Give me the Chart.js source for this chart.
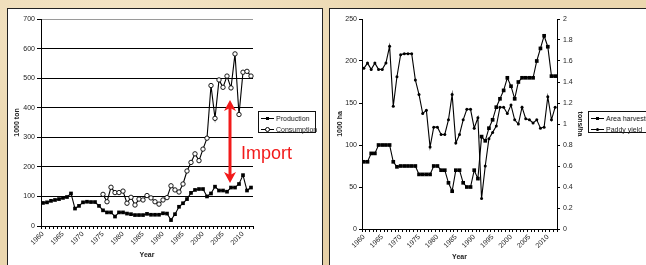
<!DOCTYPE html>
<html>
<head>
<meta charset="utf-8">
<script src="https://cdn.jsdelivr.net/npm/chart.js@4.4.0/dist/chart.umd.min.js"></script>
<style>
html, body { margin: 0; padding: 0; }
body {
    width: 646px; height: 265px; overflow: hidden; position: relative;
    background: #ebd7af;
    background-image: radial-gradient(ellipse at 20% 10%, rgba(255,245,225,0.5), rgba(255,245,225,0) 40%),
                      radial-gradient(ellipse at 80% 95%, rgba(200,170,120,0.35), rgba(200,170,120,0) 45%);
    font-family: "Liberation Sans", Arial, sans-serif;
}
.panel { position: absolute; background: #fff; border: 1px solid #222; box-sizing: border-box; }
#leftPanel { left: 7px; top: 8px; width: 316px; height: 270px; }
#rightPanel { left: 329px; top: 8px; width: 342px; height: 270px; }
.panel canvas { position: absolute; left: 0; top: 0; }
.legend { position: absolute; background: #fff; border: 1px solid #111; font-size: 7px; color: #222; padding-top: 1px; height: 22px; box-sizing: border-box; filter: grayscale(1); }
.legend .item { position: relative; height: 11px; line-height: 11px; padding-left: 17px; white-space: nowrap; }
.legend .ico { position: absolute; left: 2px; top: 5px; width: 13px; height: 1px; background: #000; }
.legend .mk { position: absolute; }
.mk.sq { left: 5px; top: -1px; width: 3px; height: 3px; background: #000; }
.mk.ci { left: 4px; top: -2px; width: 3px; height: 3px; border: 1px solid #000; border-radius: 50%; background: #fff; }
.mk.dot { left: 5px; top: -1px; width: 3px; height: 3px; border-radius: 50%; background: #000; }
#legL { left: 258px; top: 111px; width: 58px; }
#legR { left: 588px; top: 111px; width: 80px; }
#importLabel { position: absolute; left: 241px; top: 144px; font-size: 18px; line-height: 18px; color: #f21a1a; }
</style>
</head>
<body>
<div class="panel" id="leftPanel"><canvas id="left" width="314" height="256"></canvas></div>
<div class="panel" id="rightPanel"><canvas id="right" width="340" height="256"></canvas></div>
<div class="legend" id="legL"></div>
<div class="legend" id="legR"></div>
<div id="importLabel">Import</div>
<script>
const years = Array.from({ length: 53 }, (_, i) => 1960 + i);

// left chart, 1000 ton
const production = [
    78, 80, 85, 88, 91, 95, 98, 110, 59, 68,
    80, 82, 81, 81, 68, 53, 46, 46, 32, 46,
    46, 42, 40, 37, 37, 37, 41, 38, 38, 38,
    43, 42, 20, 40, 65, 77, 91, 112, 122, 125,
    125, 100, 110, 133, 120, 120, 116, 130, 130, 142,
    172, 120, 130
];
const consumption = [
    null, null, null, null, null, null, null, null, null, null,
    null, null, null, null, null, 107, 82, 131, 113, 113,
    118, 77, 97, 71, 91, 88, 103, 95, 82, 74,
    88, 96, 136, 122, 115, 142, 186, 215, 244, 221,
    260, 297, 475, 364, 494, 469, 507, 467, 582, 377,
    520, 523, 507
];

// right chart, 1000 ha and tons/ha
const areaHarvested = [
    80, 80, 90, 90, 100, 100, 100, 100, 80, 74,
    75, 75, 75, 75, 75, 65, 65, 65, 65, 75,
    75, 70, 70, 55, 45, 70, 70, 55, 50, 50,
    70, 60, 110, 105, 120, 130, 145, 155, 165, 180,
    170, 155, 175, 180, 180, 180, 180, 200, 215, 230,
    217, 182, 182
];
const paddyYield = [
    1.53, 1.58, 1.52, 1.58, 1.52, 1.52, 1.58, 1.74, 1.17, 1.45,
    1.66, 1.67, 1.67, 1.67, 1.42, 1.28, 1.10, 1.13, 0.78, 0.97,
    0.97, 0.90, 0.90, 1.04, 1.28, 0.82, 0.90, 1.04, 1.14, 1.14,
    0.96, 1.06, 0.29, 0.60, 0.86, 0.92, 0.98, 1.16, 1.16, 1.10,
    1.18, 1.04, 1.00, 1.16, 1.05, 1.04, 1.01, 1.04, 0.96, 0.97,
    1.26, 1.04, 1.16
];

// red "Import" arrow, in data units
const arrowIndex = 46.75;
const arrowFrom = 145;
const arrowTo = 426;

const FONT = { family: '"Liberation Sans", Arial, sans-serif', size: 7 };
const BOLD = { family: '"Liberation Sans", Arial, sans-serif', size: 7, weight: 'bold' };
const INK = '#222';

Chart.defaults.animation = false;
Chart.defaults.color = INK;

function yearTick(value, index) {
    return years[index] % 5 === 0 ? String(years[index]) : '';
}

function xAxis(height, titlePad) {
    return {
        type: 'category',
        offset: true,
        grid: { display: true, drawOnChartArea: false, tickLength: 3, tickColor: '#000', offset: true },
        border: { color: '#000', width: 1 },
        ticks: { autoSkip: false, minRotation: 45, maxRotation: 45, padding: 1, font: FONT, color: INK, callback: yearTick },
        title: { display: true, text: 'Year', font: BOLD, color: INK, padding: { top: 0, bottom: titlePad } },
        afterFit: s => { s.height = height; }
    };
}

const importArrow = {
    id: 'importArrow',
    afterDatasetsDraw(chart) {
        const { ctx, scales: { x, y } } = chart;
        const px = x.getPixelForValue(arrowIndex);
        const top = y.getPixelForValue(arrowTo);
        const bot = y.getPixelForValue(arrowFrom);
        ctx.save();
        ctx.strokeStyle = '#f21a1a';
        ctx.fillStyle = '#f21a1a';
        ctx.lineWidth = 3;
        ctx.beginPath();
        ctx.moveTo(px, top + 8);
        ctx.lineTo(px, bot - 8);
        ctx.stroke();
        ctx.beginPath();
        ctx.moveTo(px, top);
        ctx.lineTo(px - 6, top + 11);
        ctx.lineTo(px, top + 8);
        ctx.lineTo(px + 6, top + 11);
        ctx.closePath();
        ctx.fill();
        ctx.beginPath();
        ctx.moveTo(px, bot);
        ctx.lineTo(px - 6, bot - 11);
        ctx.lineTo(px, bot - 8);
        ctx.lineTo(px + 6, bot - 11);
        ctx.closePath();
        ctx.fill();
        ctx.restore();
    }
};

new Chart(document.getElementById('left').getContext('2d'), {
    type: 'line',
    data: {
        labels: years,
        datasets: [{
            label: 'Consumption',
            data: consumption,
            borderColor: '#000',
            borderWidth: 1.1,
            pointStyle: 'circle',
            pointRadius: 2.2,
            pointBorderWidth: 0.9,
            pointBackgroundColor: '#fff',
            pointBorderColor: '#000',
            spanGaps: false,
        }, {
            label: 'Production',
            data: production,
            borderColor: '#000',
            borderWidth: 1.1,
            pointStyle: 'rect',
            pointRadius: 2.6,
            pointBorderWidth: 0,
            pointBackgroundColor: '#000',
        }],
    },
    options: {
        responsive: false,
        layout: { padding: { left: 0, right: 69, top: 10, bottom: 0 } },
        plugins: { legend: { display: false }, tooltip: { enabled: false } },
        scales: {
            x: xAxis(39, 6),
            y: {
                min: 0, max: 700,
                ticks: { stepSize: 100, padding: 2, font: FONT, color: INK },
                grid: {
                    color: c => c.tick.value === 700 ? '#9a9a9a' : '#000',
                    tickColor: '#000', tickLength: 4, lineWidth: 1,
                },
                border: { color: '#000', width: 1 },
                title: { display: true, text: '1000 ton', font: BOLD, color: INK, padding: { top: 5, bottom: 0 } },
                afterFit: s => { s.width = 33; }
            }
        }
    },
    plugins: [importArrow]
});

new Chart(document.getElementById('right').getContext('2d'), {
    type: 'line',
    data: {
        labels: years,
        datasets: [{
            label: 'Area harvested',
            data: areaHarvested,
            yAxisID: 'y',
            borderColor: '#000',
            borderWidth: 1.1,
            pointStyle: 'rect',
            pointRadius: 2.6,
            pointBorderWidth: 0,
            pointBackgroundColor: '#000',
        }, {
            label: 'Paddy yield',
            data: paddyYield,
            yAxisID: 'y1',
            borderColor: '#000',
            borderWidth: 1.1,
            pointStyle: 'circle',
            pointRadius: 1.5,
            pointBorderWidth: 0,
            pointBackgroundColor: '#000',
        }],
    },
    options: {
        responsive: false,
        layout: { padding: { left: 0, right: 83, top: 10, bottom: 0 } },
        plugins: { legend: { display: false }, tooltip: { enabled: false } },
        scales: {
            x: xAxis(36, 4),
            y: {
                position: 'left',
                min: 0, max: 250,
                ticks: { stepSize: 50, padding: 2, font: FONT, color: INK },
                grid: { drawOnChartArea: false, tickColor: '#000', tickLength: 3 },
                border: { color: '#000', width: 1 },
                title: { display: true, text: '1000 ha', font: BOLD, color: INK, padding: { top: 6, bottom: 0 } },
                afterFit: s => { s.width = 32; }
            },
            y1: {
                position: 'right',
                min: 0, max: 2,
                ticks: { stepSize: 0.2, padding: 3, font: FONT, color: INK, callback: v => String(+v.toFixed(1)) },
                grid: { drawOnChartArea: false, tickColor: '#000', tickLength: 3 },
                border: { color: '#000', width: 1 },
                title: { display: true, text: 'tons/ha', font: BOLD, color: INK, padding: { top: 3, bottom: 0 } },
                afterFit: s => { s.width = 30; }
            }
        }
    }
});

// html legends
function buildLegend(id, items) {
    const box = document.getElementById(id);
    items.forEach(([name, marker]) => {
        const row = document.createElement('div');
        row.className = 'item';
        row.innerHTML = '<span class="ico"><i class="mk ' + marker + '"></i></span>';
        row.appendChild(document.createTextNode(name));
        box.appendChild(row);
    });
}
buildLegend('legL', [['Production', 'sq'], ['Consumption', 'ci']]);
buildLegend('legR', [['Area harvested', 'sq'], ['Paddy yield', 'dot']]);
</script>
</body>
</html>
